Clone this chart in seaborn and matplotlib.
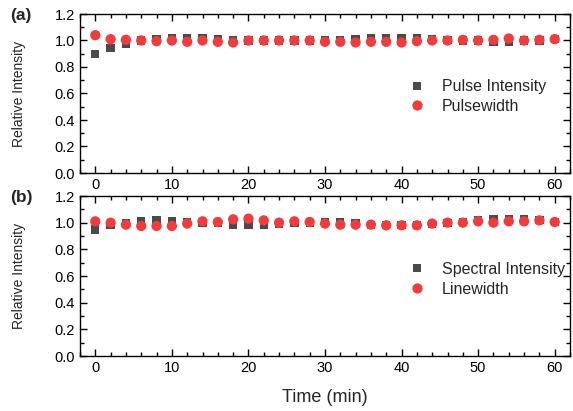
import numpy as np
import pandas as pd
import matplotlib
matplotlib.use("Agg")
import matplotlib.pyplot as plt
from matplotlib.ticker import MultipleLocator
import seaborn as sns

time_min = [0, 2, 4, 6, 8, 10, 12, 14, 16, 18, 20, 22, 24, 26, 28, 30,
            32, 34, 36, 38, 40, 42, 44, 46, 48, 50, 52, 54, 56, 58, 60]

pulse_intensity = [0.90, 0.945, 0.975, 1.00, 1.01, 1.015, 1.015, 1.015, 1.01, 1.00, 1.00,
                   1.00, 1.00, 1.00, 1.00, 1.005, 1.005, 1.01, 1.015, 1.02, 1.02, 1.015,
                   1.01, 1.005, 1.00, 1.00, 0.99, 0.99, 1.00, 1.00, 1.01]
pulsewidth = [1.04, 1.01, 1.005, 1.00, 0.995, 1.00, 0.99, 1.00, 0.99, 0.985, 1.00,
              1.00, 1.00, 1.00, 1.00, 0.99, 0.99, 0.985, 0.99, 0.99, 0.985, 0.995,
              1.00, 1.00, 1.005, 1.00, 1.005, 1.015, 1.00, 1.005, 1.01]

spectral_intensity = [0.95, 0.985, 1.00, 1.012, 1.017, 1.012, 1.005, 1.00, 1.00, 0.985, 0.985,
                      0.985, 0.99, 1.00, 1.00, 1.005, 1.005, 1.00, 0.985, 0.985, 0.98, 0.98,
                      0.99, 1.00, 1.005, 1.02, 1.03, 1.03, 1.03, 1.02, 1.005]
linewidth = [1.01, 1.00, 0.985, 0.975, 0.975, 0.975, 0.993, 1.01, 1.005, 1.025, 1.03,
             1.017, 1.00, 1.01, 1.005, 0.993, 0.985, 0.985, 0.985, 0.98, 0.98, 0.98,
             0.993, 1.00, 1.00, 1.01, 1.00, 1.01, 1.01, 1.017, 1.005]

x_ticks = [0, 10, 20, 30, 40, 50, 60]
y_ticks = [0.0, 0.2, 0.4, 0.6, 0.8, 1.0, 1.2]

sns.set_style("ticks")
plt.rcParams["font.family"] = ["Liberation Sans", "DejaVu Sans"]

GREY = "#4a4a4a"
RED = "#f03c3c"

fig = plt.figure(figsize=(5.73, 4.11), dpi=100)
ax_a = fig.add_axes([80/573, 1-173/411, 490/573, 159/411])
ax_b = fig.add_axes([80/573, 1-356/411, 490/573, 160/411])

panels = [
    (ax_a, pulse_intensity, pulsewidth, "Pulse Intensity", "Pulsewidth", "(a)"),
    (ax_b, spectral_intensity, linewidth, "Spectral Intensity", "Linewidth", "(b)"),
]

for ax, sq, ci, sq_name, ci_name, tag in panels:
    df = pd.DataFrame({
        "t": time_min * 2,
        "v": list(sq) + list(ci),
        "series": [sq_name] * len(sq) + [ci_name] * len(ci),
    })
    sns.scatterplot(data=df, x="t", y="v", hue="series", style="series",
                    markers={sq_name: "s", ci_name: "o"},
                    palette={sq_name: GREY, ci_name: RED},
                    size="series", sizes={sq_name: 36, ci_name: 55},
                    edgecolor="none", linewidth=0, ax=ax, legend=True)
    ax.set_xlim(-2, 62)
    ax.set_ylim(0, 1.2)
    ax.set_xticks(x_ticks)
    ax.set_yticks(y_ticks)
    ax.xaxis.set_minor_locator(MultipleLocator(2))
    ax.yaxis.set_minor_locator(MultipleLocator(0.1))
    ax.tick_params(which="both", direction="in", top=True, right=True,
                   labelsize=10.5, colors="black", width=1)
    ax.tick_params(which="major", length=5)
    ax.tick_params(which="minor", length=3)
    for sp in ax.spines.values():
        sp.set_visible(True)
        sp.set_linewidth(1)
        sp.set_color("black")
    ax.set_xlabel("")
    ax.set_ylabel("Relative Intensity", fontsize=10)
    ax.yaxis.set_label_coords(-0.11, 0.5)
    ax.set_yticklabels([f"{v:.1f}" for v in y_ticks])
    h, l = ax.get_legend_handles_labels()
    leg = ax.legend(h, l, loc="center left", bbox_to_anchor=(0.625, 0.48),
                    frameon=False, fontsize=11.5, handletextpad=0.6,
                    labelspacing=0.3, markerscale=1.0)
    ax.text(-0.12, 0.99, tag, transform=ax.transAxes, fontsize=12.5,
            fontweight="bold", ha="center", va="center")

ax_b.set_xlabel("Time (min)", fontsize=13, labelpad=10)

fig.savefig("out.png", dpi=100)
